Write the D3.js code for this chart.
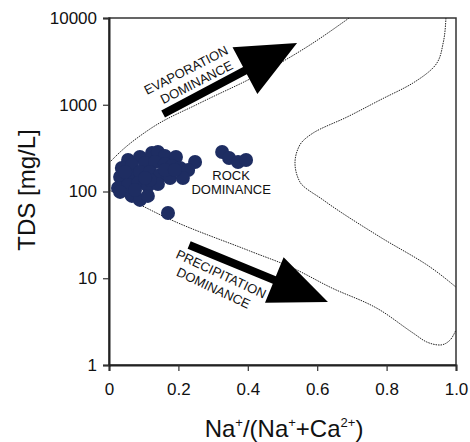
<!DOCTYPE html>
<html>
<head>
<meta charset="utf-8">
<script src="https://cdn.jsdelivr.net/npm/d3@7"></script>
<style>
body { margin: 0; background: #fff; }
text { font-family: "Liberation Sans", Arial, sans-serif; }
</style>
</head>
<body>
<svg id="chart" width="470" height="442"></svg>
<script>
// samples: Na+/(Na+ + Ca2+) ratio and TDS (mg/L)
var naRatio = [0.055, 0.089, 0.124, 0.141, 0.161, 0.193, 0.248,
               0.037, 0.066, 0.104, 0.133, 0.161, 0.182, 0.205, 0.228,
               0.032, 0.061, 0.089, 0.118, 0.147, 0.176, 0.213,
               0.026, 0.055, 0.084, 0.112, 0.141,
               0.032, 0.066, 0.089, 0.112,
               0.118, 0.161, 0.075, 0.046, 0.190, 0.104,
               0.170,
               0.326, 0.346, 0.372, 0.395];
var tds = [231, 250, 278, 285, 257, 250, 219,
           187, 202, 213, 219, 207, 197, 187, 177,
           147, 151, 168, 168, 155, 143, 143,
           110, 119, 125, 116, 122,
           99, 89, 80, 89,
           136, 177, 104, 168, 177, 143,
           56.5,
           285, 243, 219, 231];

// Gibbs boundary curves
var upperX = [0, 0.032, 0.118, 0.262, 0.406, 0.493, 0.579, 0.692];
var upperY = [213, 285, 525, 1047, 1982, 3030, 4884, 10000];
var outerX = [0.971, 0.963, 0.945, 0.876, 0.781, 0.686, 0.588, 0.550, 0.536, 0.550, 0.617, 0.781, 0.925, 1.0];
var outerY = [10000, 5150, 3030, 1781, 1134, 722, 472, 344, 213, 129, 80, 29.9, 13.5, 7.9];
var lowerX = [0, 0.061, 0.167, 0.406, 0.530, 0.637, 0.781, 0.876, 0.916, 0.954, 0.983, 1.0];
var lowerY = [104, 80, 49.5, 20.6, 13.1, 7.9, 4.3, 2.34, 1.84, 1.70, 1.94, 2.53];

var xTicks = [0, 0.2, 0.4, 0.6, 0.8, 1.0];
var xTickLabels = ['0', '0.2', '0.4', '0.6', '0.8', '1.0'];
var yTicks = [1, 10, 100, 1000, 10000];

var width = 470, height = 442;
var margin = { left: 109, top: 18, right: 14, bottom: 77 };

var svg = d3.select('#chart');

var x = d3.scaleLinear().domain([0, 1]).range([margin.left, width - margin.right]);
var y = d3.scaleLog().domain([1, 10000]).range([height - margin.bottom, margin.top]);

// frame
svg.append('rect')
    .attr('x', x(0)).attr('y', y(10000))
    .attr('width', x(1) - x(0)).attr('height', y(1) - y(10000))
    .attr('fill', 'none').attr('stroke', '#333').attr('stroke-width', 1.5);

// dotted boundary lines
function curveLine(c) {
    return d3.line()
        .x(function (d) { return x(d[0]); })
        .y(function (d) { return y(d[1]); })
        .curve(c);
}

[[upperX, upperY, d3.curveMonotoneX], [outerX, outerY, d3.curveMonotoneY], [lowerX, lowerY, d3.curveMonotoneX]].forEach(function (c) {
    svg.append('path')
        .datum(d3.zip(c[0], c[1]))
        .attr('d', curveLine(c[2]))
        .attr('fill', 'none')
        .attr('stroke', '#222')
        .attr('stroke-width', 1)
        .attr('stroke-dasharray', '1.5,1');
});

// arrows: start, tip (data coords)
var arrows = [
    { from: [0.156, 782], to: [0.542, 5150], headLen: 59, headW: 53, shaft: 8 },
    { from: [0.231, 24.2], to: [0.631, 5.32], headLen: 58, headW: 49, shaft: 8 }
];
arrows.forEach(function (a) {
    var x0 = x(a.from[0]), y0 = y(a.from[1]), x1 = x(a.to[0]), y1 = y(a.to[1]);
    var len = Math.hypot(x1 - x0, y1 - y0);
    var ux = (x1 - x0) / len, uy = (y1 - y0) / len;
    var px = -uy, py = ux;
    var bx = x1 - ux * a.headLen, by = y1 - uy * a.headLen;
    var s = a.shaft / 2, h = a.headW / 2;
    var pts = [
        [x0 + px * s, y0 + py * s], [bx + px * s, by + py * s], [bx + px * h, by + py * h],
        [x1, y1],
        [bx - px * h, by - py * h], [bx - px * s, by - py * s], [x0 - px * s, y0 - py * s]
    ];
    svg.append('polygon').attr('points', pts.map(function (p) { return p.join(','); }).join(' '))
        .attr('fill', '#000');
});

// region labels
var labels = [
    { pos: [0.222, 2500], rot: -27, lines: ['EVAPORATION', 'DOMINANCE'], gap: 15.5, dx: [0, 4] },
    { pos: [0.323, 11.2], rot: 25, lines: ['PRECIPITATION', 'DOMINANCE'], gap: 16, dx: [0, -1] }
];
labels.forEach(function (l) {
    var g = svg.append('g')
        .attr('transform', 'translate(' + x(l.pos[0]) + ',' + y(l.pos[1]) + ') rotate(' + l.rot + ')');
    l.lines.forEach(function (t, i) {
        g.append('text').attr('x', l.dx[i]).attr('y', 4.5 + i * l.gap)
            .attr('text-anchor', 'middle').attr('font-size', 13).attr('fill', '#111').text(t);
    });
});

// data points
svg.append('g').selectAll('circle')
    .data(d3.zip(naRatio, tds))
    .enter().append('circle')
    .attr('cx', function (d) { return x(d[0]); })
    .attr('cy', function (d) { return y(d[1]); })
    .attr('r', 7)
    .attr('fill', '#1e2d62');

svg.append('text').attr('x', x(0.352)).attr('y', y(136))
    .attr('text-anchor', 'middle').attr('font-size', 13).attr('fill', '#111').text('ROCK');
svg.append('text').attr('x', x(0.352)).attr('y', y(93.5))
    .attr('text-anchor', 'middle').attr('font-size', 13).attr('fill', '#111').text('DOMINANCE');

// axes
var xAxis = svg.append('g')
    .attr('transform', 'translate(0,' + y(1) + ')')
    .call(d3.axisBottom(x).tickValues(xTicks).tickSize(6).tickPadding(12)
        .tickFormat(function (d, i) { return xTickLabels[i]; }));
var yAxis = svg.append('g')
    .attr('transform', 'translate(' + x(0) + ',0)')
    .call(d3.axisLeft(y).tickValues(yTicks).tickSize(6).tickPadding(6)
        .tickFormat(d3.format('d')));

[xAxis, yAxis].forEach(function (ax) {
    ax.select('.domain').attr('stroke', '#222').attr('stroke-width', 2);
    ax.selectAll('.tick line').attr('stroke', '#333').attr('stroke-width', 1.2);
    ax.selectAll('.tick text').attr('font-size', 17).attr('fill', '#111')
        .style('font-family', '"Liberation Sans", Arial, sans-serif');
});

// axis titles
svg.append('text')
    .attr('transform', 'translate(35,' + (margin.top + 172) + ') rotate(-90)')
    .attr('text-anchor', 'middle').attr('font-size', 24).attr('fill', '#111')
    .text('TDS [mg/L]');

var xt = svg.append('text')
    .attr('x', 284).attr('y', 437)
    .attr('text-anchor', 'middle').attr('font-size', 24).attr('fill', '#111');
xt.append('tspan').text('Na');
xt.append('tspan').attr('font-size', 13).attr('dy', -10).text('+');
xt.append('tspan').attr('dy', 10).text('/(Na');
xt.append('tspan').attr('font-size', 13).attr('dy', -10).text('+');
xt.append('tspan').attr('dy', 10).text('+Ca');
xt.append('tspan').attr('font-size', 13).attr('dy', -10).text('2+');
xt.append('tspan').attr('dy', 10).text(')');
</script>
</body>
</html>
